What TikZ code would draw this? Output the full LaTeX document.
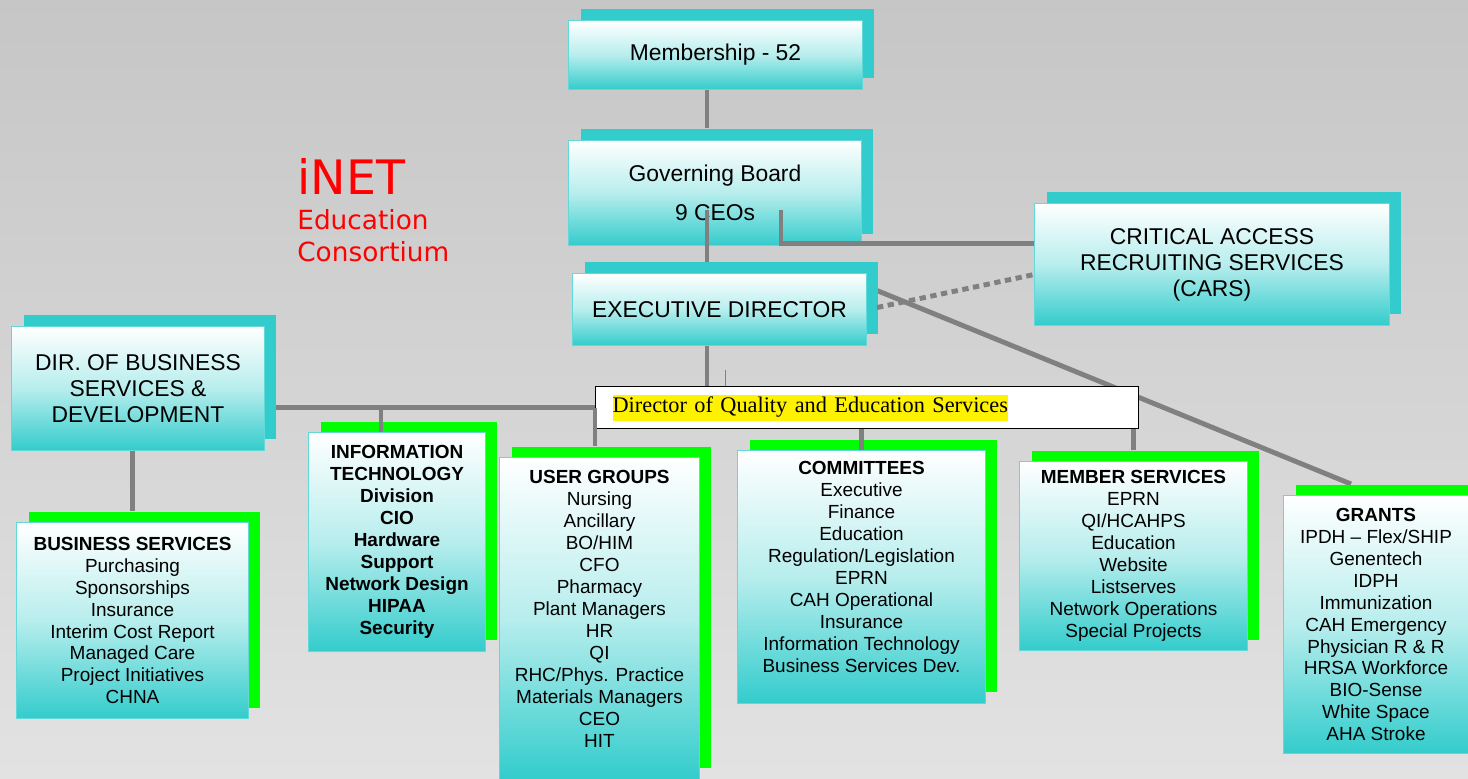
\documentclass[tikz,border=0pt]{standalone}
\usepackage{fontspec}
\setmainfont{Liberation Sans}
\newfontfamily\timesfont{Liberation Serif}
\newfontfamily\logofont{DejaVu Sans}
\usepackage{xcolor}
\usetikzlibrary{shadows,calc,backgrounds}

\definecolor{boxcyan}{HTML}{33CCCC}
\definecolor{boxedge}{HTML}{62D8D8}
\definecolor{shadegreen}{HTML}{00FF00}
\definecolor{linkgray}{HTML}{808080}
\definecolor{logored}{HTML}{FF0000}
\definecolor{bgtop}{HTML}{C6C6C6}
\definecolor{bgbottom}{HTML}{E2E2E2}

\tikzset{
	cardbox/.style={draw=boxedge, line width=0.6pt, top color=white, bottom color=boxcyan,
		middle color=boxcyan!35!white, anchor=north west, align=center, inner sep=0pt},
	topbox/.style={cardbox, font=\fontsize{13}{14.8}\selectfont,
		copy shadow={shadow xshift=0.24cm, shadow yshift=0.23cm, fill=boxcyan, draw=none}},
	groupbox/.style={cardbox, font=\fontsize{10.8}{12.5}\selectfont,
		copy shadow={shadow xshift=0.24cm, shadow yshift=0.22cm, fill=shadegreen, draw=none}},
	qualitybox/.style={draw=black, line width=0.7pt, fill=white, anchor=north west,
		minimum width=10.86cm, minimum height=0.84cm, text width=10.18cm, inner xsep=0.34cm,
		align=left, font=\timesfont\fontsize{12.7}{14.7}\selectfont},
	link/.style={draw=linkgray, line width=2.8pt},
	dotlink/.style={link, dash pattern=on 3.6pt off 2.6pt}
}

\begin{document}
\begin{tikzpicture}[x=0.02cm, y=-0.02cm]
	\useasboundingbox (0,0) rectangle (1468,778);
	%
	\node[anchor=north west, inner sep=0pt, align=left, text=logored,
		font=\logofont\fontsize{15}{18}\selectfont] (logo) at (297,158)
		{{\fontsize{27}{30}\selectfont iNET}\\[2pt]Education\\Consortium};
	%
	\node[topbox, minimum width=5.88cm, minimum height=1.38cm] (mem) at (568,20) {Membership - 52};
	\node[topbox, minimum width=5.86cm, minimum height=2.10cm, font=\fontsize{13}{22}\selectfont] (gb) at (568,140)
		{Governing Board\\9 CEOs};
	\node[topbox, minimum width=5.88cm, minimum height=1.44cm] (ed) at (572,273) {EXECUTIVE DIRECTOR};
	\node[topbox, minimum width=7.10cm, minimum height=2.44cm] (cars) at (1034,203)
		{CRITICAL ACCESS\\RECRUITING SERVICES\\(CARS)};
	\node[topbox, minimum width=5.06cm, minimum height=2.48cm] (dirbiz) at (11,326)
		{DIR. OF BUSINESS\\SERVICES \&\\DEVELOPMENT};
	%
	\node[qualitybox] (quality) at (595,386)
		{{\fboxsep=0pt\colorbox{yellow}{\strut Director of Quality and Education Services}}};
	%
	\node[groupbox, minimum width=4.64cm, minimum height=3.92cm] (bs) at (16,522)
		{\textbf{BUSINESS SERVICES}\\Purchasing\\Sponsorships\\Insurance\\Interim Cost Report\\
		Managed Care\\Project Initiatives\\CHNA};
	\node[groupbox, minimum width=3.54cm, minimum height=4.38cm, font=\fontsize{10.8}{12.5}\selectfont\bfseries] (it) at (308,432)
		{INFORMATION\\TECHNOLOGY\\Division\\CIO\\Hardware\\Support\\Network Design\\HIPAA\\Security};
	% trailing strut keeps the list near the top of the taller boxes
	\node[groupbox, minimum width=4.00cm, minimum height=6.44cm] (ug) at (499,457)
		{\textbf{USER GROUPS}\\Nursing\\Ancillary\\BO/HIM\\CFO\\Pharmacy\\Plant Managers\\HR\\QI\\
		RHC/Phys. Practice\\Materials Managers\\CEO\\HIT\\[-5pt]\strut};
	\node[groupbox, minimum width=4.96cm, minimum height=5.06cm] (cm) at (737,450)
		{\textbf{COMMITTEES}\\Executive\\Finance\\Education\\Regulation/Legislation\\EPRN\\
		CAH Operational\\Insurance\\Information Technology\\Business Services Dev.\\[-5pt]\strut};
	\node[groupbox, minimum width=4.56cm, minimum height=3.78cm] (ms) at (1019,461)
		{\textbf{MEMBER SERVICES}\\EPRN\\QI/HCAHPS\\Education\\Website\\Listserves\\
		Network Operations\\Special Projects};
	\node[groupbox, minimum width=3.70cm, minimum height=5.16cm] (grants) at (1283,495)
		{\textbf{GRANTS}\\IPDH -- Flex/SHIP\\Genentech\\IDPH\\Immunization\\CAH Emergency\\
		Physician R \& R\\HRSA Workforce\\BIO-Sense\\White Space\\AHA Stroke};
	%
	\coordinate (spine) at (707,0);
	\coordinate (itjoin) at ($(it.north)+(-16,0)$);
	%
	\begin{scope}[on background layer]
		\fill[top color=bgtop, bottom color=bgbottom] (0,0) rectangle (1468,778);
		\draw[link] ($(ed.east)+(10,-19)$) -- ($(grants.north)+(-25,-11)$);
		\draw[link] (dirbiz.east |- quality.west) -- (quality.west);
	\end{scope}
	%
	\draw[link, shorten >=0.24cm] (spine |- mem.south) -- (spine |- gb.north);
	\draw[link, shorten >=0.22cm] ($(spine |- gb.center)+(0,17)$) -- (spine |- ed.north);
	\draw[link] (spine |- ed.south) -- (spine |- quality.north);
	\draw[link] ($(gb.center)+(66,17)$) |- ($(cars.west)+(0,-21)$);
	\draw[dotlink] ($(ed.east)+(10,-2)$) -- ($(cars.west)+(0,10)$);
	\draw[draw=linkgray, line width=0.4pt] ($(quality.north)+(-142,0)$) -- ++(0,-16);
	%
	\draw[link, shorten >=0.22cm] (bs.north |- dirbiz.south) -- (bs.north);
	\draw[link] (itjoin |- quality.west) -- (itjoin);
	\draw[link, shorten >=0.22cm] (quality.west) -- (quality.west |- ug.north);
	\draw[link] (cm.north |- quality.south) -- (cm.north);
	\draw[link, shorten >=0.22cm] (ms.north |- quality.south) -- (ms.north);
\end{tikzpicture}
\end{document}
